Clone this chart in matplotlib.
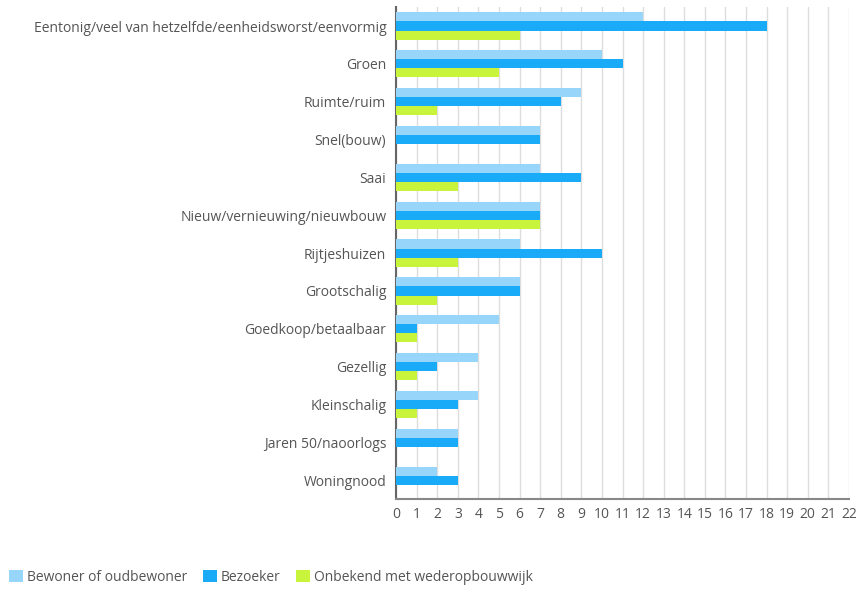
import numpy as np
import matplotlib.pyplot as plt
from matplotlib.patches import Patch

plt.rcParams['font.family'] = ['Open Sans', 'DejaVu Sans']

# Categories (top to bottom)
categories = [
    "Eentonig/veel van hetzelfde/eenheidsworst/eenvormig",
    "Groen",
    "Ruimte/ruim",
    "Snel(bouw)",
    "Saai",
    "Nieuw/vernieuwing/nieuwbouw",
    "Rijtjeshuizen",
    "Grootschalig",
    "Goedkoop/betaalbaar",
    "Gezellig",
    "Kleinschalig",
    "Jaren 50/naoorlogs",
    "Woningnood",
]

# Series values
bewoner = [12, 10, 9, 7, 7, 7, 6, 6, 5, 4, 4, 3, 2]
bezoeker = [18, 11, 8, 7, 9, 7, 10, 6, 1, 2, 3, 3, 3]
onbekend = [6, 5, 2, 0, 3, 7, 3, 2, 1, 1, 1, 0, 0]

series_names = ["Bewoner of oudbewoner", "Bezoeker", "Onbekend met wederopbouwwijk"]
colors = ["#97d5fa", "#19aaf8", "#c8f53c"]

fig = plt.figure(figsize=(8.61, 5.90), dpi=100)
ax = fig.add_axes([0.46, 0.154, 0.526, 0.834])

y = np.arange(len(categories))
h = 0.24
for vals, off, c in zip([bewoner, bezoeker, onbekend], [-h, 0, h], colors):
    ax.barh(y + off, vals, height=h, color=c, zorder=3)

ax.set_ylim(len(categories) - 0.5, -0.5)
ax.set_xlim(0, 22)
ax.set_xticks(range(0, 23))
ax.set_yticks(y)
ax.set_yticklabels(categories)

ax.grid(axis='x', color='#dddddd', linewidth=1, zorder=0)
ax.set_axisbelow(True)
for s in ['top', 'right']:
    ax.spines[s].set_visible(False)
ax.spines['left'].set_color('#666666')
ax.spines['bottom'].set_color('#888888')
ax.spines['left'].set_linewidth(1.5)
ax.spines['bottom'].set_linewidth(1.5)
ax.tick_params(axis='both', length=0, labelsize=10, colors='#555555')
ax.tick_params(axis='y', pad=7)
ax.tick_params(axis='x', pad=6)

handles = [Patch(facecolor=c, label=n) for c, n in zip(colors, series_names)]
fig.legend(handles=handles, loc='lower left', bbox_to_anchor=(-0.004, -0.012),
           ncol=3, frameon=False, fontsize=10, handlelength=1.0, handleheight=1.0,
           handletextpad=0.3, columnspacing=1.1, labelcolor='#555555')

fig.savefig("out.png", dpi=100)
